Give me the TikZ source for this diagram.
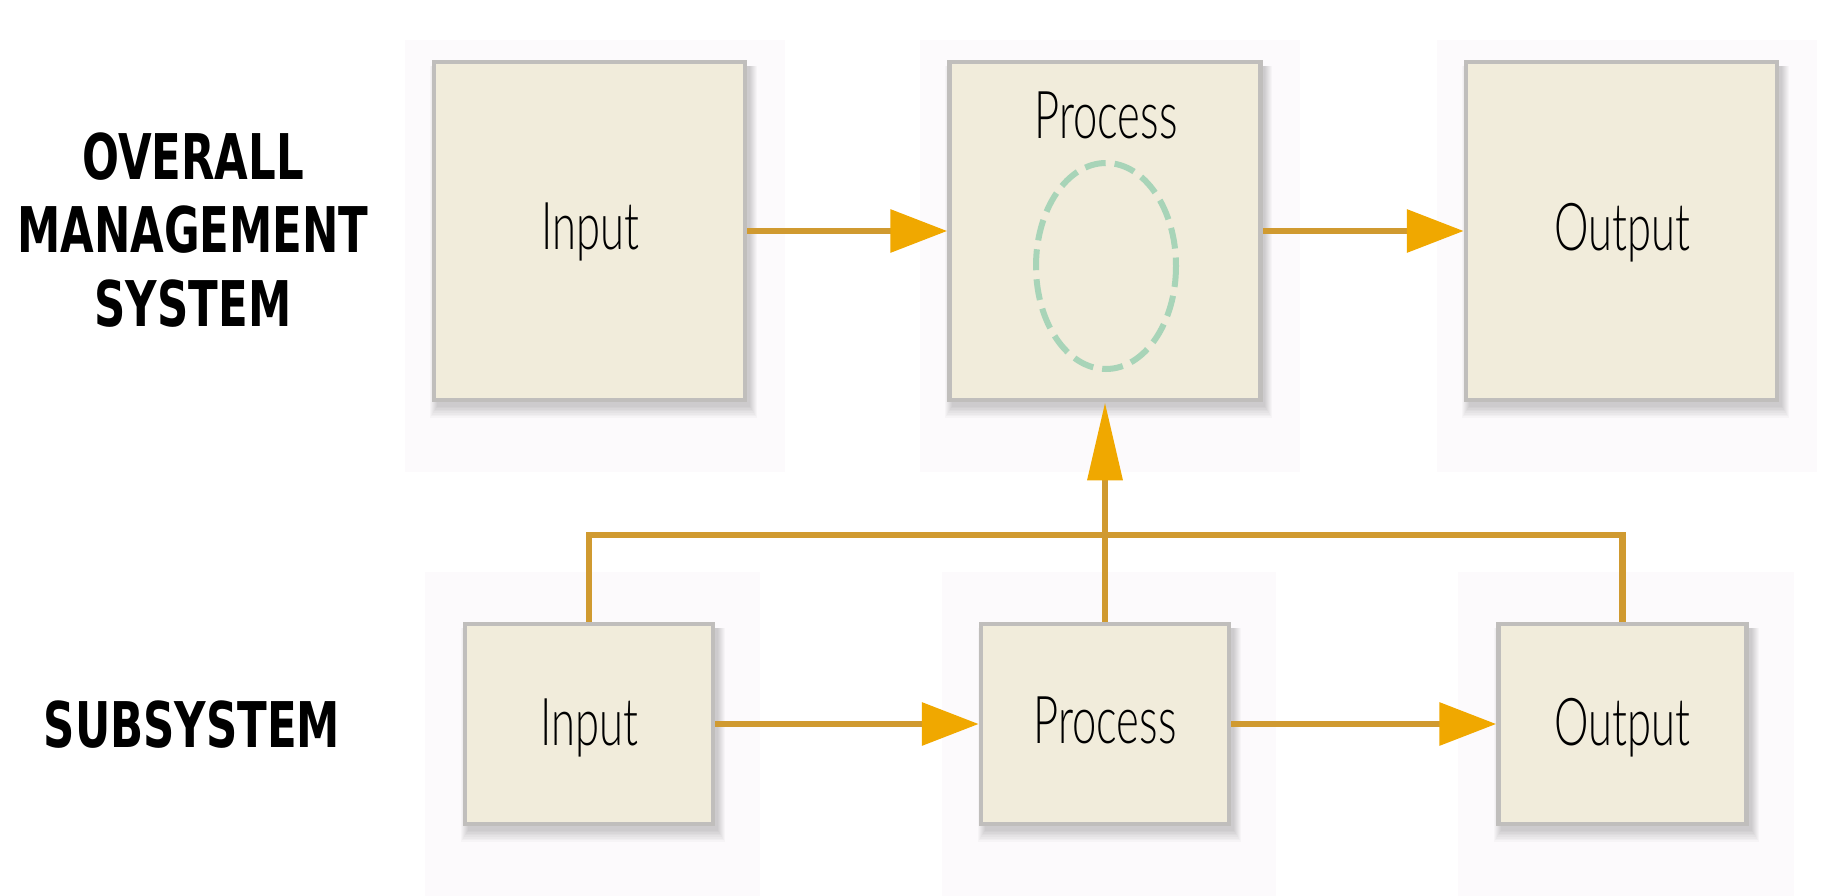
\documentclass[tikz,border=0pt]{standalone}
\usepackage{fontspec}
\usetikzlibrary{arrows.meta}
\newfontfamily\boxfont{Lato Light}[FakeStretch=0.66]
\newfontfamily\headfont{DejaVu Sans}[FakeStretch=0.69]

\definecolor{boxfill}{RGB}{241,236,219}
\definecolor{boxedge}{RGB}{192,190,188}
\definecolor{wiregold}{RGB}{208,154,48}
\definecolor{tipgold}{RGB}{240,168,0}
\definecolor{loopgreen}{RGB}{168,212,184}
\definecolor{halo}{RGB}{252,250,252}

\tikzset{
  x=1pt, y=-1pt,
  sysbox/.style={draw=boxedge, fill=boxfill, line width=4.5pt, inner sep=0pt},
  bigbox/.style={sysbox, minimum width=311pt, minimum height=338pt},
  smallbox/.style={sysbox, minimum width=248pt, minimum height=200pt},
  boxlabel/.style={font=\boxfont\fontsize{66}{80}\selectfont, inner sep=0pt, anchor=base},
  headlabel/.style={font=\headfont\bfseries\fontsize{63}{73.5}\selectfont, align=center, inner sep=0pt},
  wire/.style={draw=wiregold, line width=6.5pt},
  harrow/.style={wire, -{Triangle[length=57pt, width=42pt, color=tipgold]}},
  varrow/.style={wire, -{Triangle[length=78pt, width=34pt, color=tipgold]}},
  loop/.style={draw=loopgreen, line width=6pt, dash pattern=on 21pt off 9pt},
}

% soft drop shadow built from a stack of faint rectangles
\newcommand{\softshadow}[4]{%
  \foreach \k in {1,...,8}{%
    \fill[black, opacity=0.022]
      (#1+6-\k, #2+6) rectangle (#3+2+\k, #4+3+1.6*\k);
  }%
}

\begin{document}
\begin{tikzpicture}
\useasboundingbox (0,0) rectangle (1829,896);
\fill[white] (0,0) rectangle (1829,896);

% faint panels behind each block
\fill[halo] (405,40) rectangle (785,472);
\fill[halo] (920,40) rectangle (1300,472);
\fill[halo] (1437,40) rectangle (1817,472);
\fill[halo] (425,572) rectangle (760,896);
\fill[halo] (942,572) rectangle (1276,896);
\fill[halo] (1458,572) rectangle (1794,896);

% shadows
\softshadow{432}{60}{747}{402}
\softshadow{947}{60}{1262}{402}
\softshadow{1464}{60}{1779}{402}
\softshadow{463}{622}{715}{826}
\softshadow{980}{622}{1231}{826}
\softshadow{1496}{622}{1749}{826}

% overall management system
\node[bigbox] (inT)  at (589.5,231) {};
\node[bigbox] (prT)  at (1105,231)  {};
\node[bigbox] (outT) at (1621.5,231) {};

% subsystem
\node[smallbox] (inB)  at (589,724)    {};
\node[smallbox] (prB)  at (1105,724)   {};
\node[smallbox] (outB) at (1622.5,724) {};

% dashed loop inside the overall process
\draw[loop] (1106,266) ellipse [x radius=70, y radius=103];

% connectors
\coordinate (bus) at (1105,535);
\draw[harrow] (inT.east) -- (prT.west);
\draw[harrow] (prT.east) -- (outT.west);
\draw[harrow] (inB.east) -- (prB.west);
\draw[harrow] (prB.east) -- (outB.west);
\draw[wire] (inB.north) |- (bus) -| (outB.north);
\draw[varrow] (prB.north) -- (prT.south);

% labels
\node[boxlabel] (tinT)  at (590,250)  {Input};
\node[boxlabel] (tprT)  at (1106,139) {Process};
\node[boxlabel] (toutT) at (1622,251) {Output};
\node[boxlabel] (tinB)  at (589,745)  {Input};
\node[boxlabel] (tprB)  at (1105,743) {Process};
\node[boxlabel] (toutB) at (1622,745) {Output};

\node[headlabel] (hsys) at (193,230) {OVERALL\\MANAGEMENT\\SYSTEM};
\node[headlabel] (hsub) at (192,724.5) {SUBSYSTEM};
\end{tikzpicture}
\end{document}
